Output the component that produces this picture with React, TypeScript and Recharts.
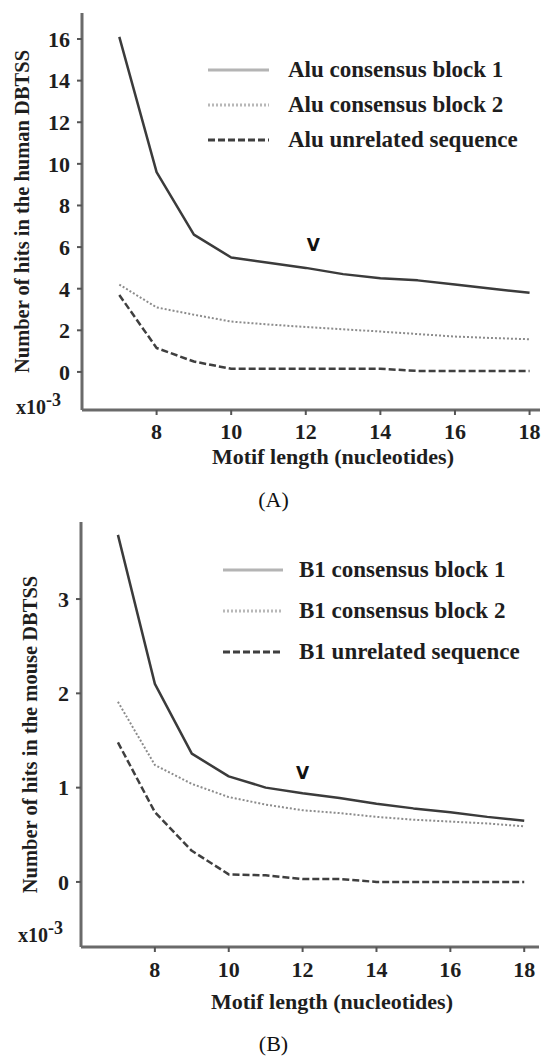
import React from "react";
import {
  LineChart,
  Line,
  XAxis,
  YAxis,
  Legend,
  ReferenceDot,
} from "recharts";

// motif lengths on the x axis
const motifLengths = [7, 8, 9, 10, 11, 12, 13, 14, 15, 16, 17, 18];
const xTicks = [8, 10, 12, 14, 16, 18];

// panel A - human DBTSS (x10^-3)
const humanBlock1 = [16.1, 9.6, 6.6, 5.5, 5.25, 5.0, 4.7, 4.5, 4.4, 4.2, 4.0, 3.8];
const humanBlock2 = [4.2, 3.1, 2.75, 2.42, 2.28, 2.16, 2.05, 1.94, 1.82, 1.7, 1.63, 1.57];
const humanUnrelated = [3.7, 1.15, 0.5, 0.15, 0.15, 0.15, 0.15, 0.15, 0.05, 0.05, 0.05, 0.05];
const humanYTicks = [0, 2, 4, 6, 8, 10, 12, 14, 16];
const humanMarker = { x: 12.2, y: 6.1 };

// panel B - mouse DBTSS (x10^-3)
const mouseBlock1 = [3.68, 2.1, 1.36, 1.12, 1.0, 0.94, 0.89, 0.83, 0.78, 0.74, 0.69, 0.65];
const mouseBlock2 = [1.91, 1.24, 1.04, 0.9, 0.82, 0.76, 0.73, 0.69, 0.66, 0.64, 0.62, 0.59];
const mouseUnrelated = [1.48, 0.74, 0.33, 0.08, 0.07, 0.03, 0.03, 0.0, 0.0, 0.0, 0.0, 0.0];
const mouseYTicks = [0, 1, 2, 3];
const mouseMarker = { x: 12.0, y: 1.16 };

const FONT = "'Liberation Serif', 'DejaVu Serif', serif";

const seriesStyle = [
  { key: "block1", stroke: "#3b3b3b", width: 2.5, dash: undefined as string | undefined, legendStroke: "#b4b4b4", legendDash: undefined as string | undefined },
  { key: "block2", stroke: "#8c8c8c", width: 2, dash: "2 2", legendStroke: "#b8b8b8", legendDash: "2 2" },
  { key: "unrelated", stroke: "#3f3f3f", width: 2.5, dash: "7 3", legendStroke: "#3f3f3f", legendDash: "7 3" },
];

function buildRows(b1: number[], b2: number[], un: number[]) {
  return motifLengths.map((len, i) => ({
    len,
    block1: b1[i],
    block2: b2[i],
    unrelated: un[i],
  }));
}

const humanData = buildRows(humanBlock1, humanBlock2, humanUnrelated);
const mouseData = buildRows(mouseBlock1, mouseBlock2, mouseUnrelated);

// the source figure is a bit stretched sideways, so horizontal text runs larger
const tickStyle = { fontFamily: FONT, fontWeight: 700, fontSize: 22, fill: "#1e1e1e" };
const xTitleStyle = { fontFamily: FONT, fontWeight: 700, fontSize: 22, fill: "#1e1e1e" };
const yTitleStyle = { fontFamily: FONT, fontWeight: 700, fontSize: 20.5, fill: "#1e1e1e", textAnchor: "middle" };

function makeLegend(names: string[], rowGap: number, sampleW: number, textGap: number) {
  return () => (
    <div style={{ fontFamily: FONT, fontWeight: 700, fontSize: 23, color: "#1e1e1e", whiteSpace: "nowrap" }}>
      {seriesStyle.map((s, i) => (
        <div key={s.key} style={{ display: "flex", alignItems: "center", height: rowGap }}>
          <svg width={sampleW} height={6} style={{ marginRight: textGap }}>
            <line
              x1={0}
              y1={3}
              x2={sampleW}
              y2={3}
              stroke={s.legendStroke}
              strokeWidth={3}
              strokeDasharray={s.legendDash}
            />
          </svg>
          <span>{names[i]}</span>
        </div>
      ))}
    </div>
  );
}

const markerShape = (p: any) => (
  <text
    x={p.cx}
    y={p.cy}
    textAnchor="middle"
    dominantBaseline="central"
    fontFamily="'DejaVu Sans', sans-serif"
    fontWeight={700}
    fontSize={17}
    fill="#111"
  >
    V
  </text>
);

interface PanelProps {
  data: typeof humanData;
  width: number;
  height: number;
  margin: { top: number; right: number; left: number; bottom: number };
  yWidth: number;
  xHeight: number;
  yDomain: [number, number];
  xDomain: [number, number];
  yTicks: number[];
  yTitle: string;
  yTitleOffset: number;
  xTickMargin: number;
  legendNames: string[];
  legendPos: { left: number; top: number };
  legendRowGap: number;
  legendSampleW: number;
  legendTextGap: number;
  marker: { x: number; y: number };
}

function Panel(props: PanelProps) {
  return (
    <LineChart width={props.width} height={props.height} data={props.data} margin={props.margin}>
      <XAxis
        dataKey="len"
        type="number"
        domain={props.xDomain}
        ticks={xTicks}
        allowDataOverflow
        height={props.xHeight}
        tick={tickStyle}
        tickSize={5}
        tickMargin={props.xTickMargin}
        axisLine={{ stroke: "#6a6a6a", strokeWidth: 3 }}
        tickLine={{ stroke: "#555", strokeWidth: 2 }}
        label={{
          value: "Motif length (nucleotides)",
          position: "insideBottom",
          offset: 6,
          dx: 22,
          style: xTitleStyle,
        }}
      />
      <YAxis
        type="number"
        domain={props.yDomain}
        ticks={props.yTicks}
        allowDataOverflow
        width={props.yWidth}
        tick={tickStyle}
        tickSize={5}
        tickMargin={7}
        axisLine={{ stroke: "#6a6a6a", strokeWidth: 3 }}
        tickLine={{ stroke: "#555", strokeWidth: 2 }}
        label={{
          value: props.yTitle,
          angle: -90,
          position: "insideLeft",
          offset: props.yTitleOffset,
          style: yTitleStyle,
        }}
      />
      {/* vertical + center + middle keeps the legend from eating plot space */}
      <Legend
        layout="vertical"
        verticalAlign="middle"
        align="center"
        content={makeLegend(props.legendNames, props.legendRowGap, props.legendSampleW, props.legendTextGap)}
        wrapperStyle={{ left: props.legendPos.left, top: props.legendPos.top, width: "auto" }}
      />
      {seriesStyle.map((s) => (
        <Line
          key={s.key}
          dataKey={s.key}
          type="linear"
          stroke={s.stroke}
          strokeWidth={s.width}
          strokeDasharray={s.dash}
          strokeLinejoin="round"
          dot={false}
          activeDot={false}
          isAnimationActive={false}
        />
      ))}
      <ReferenceDot x={props.marker.x} y={props.marker.y} r={0} shape={markerShape} ifOverflow="visible" />
    </LineChart>
  );
}

const panelLabel: React.CSSProperties = {
  position: "absolute",
  width: 551,
  textAlign: "center",
  fontFamily: FONT,
  fontSize: 22,
  color: "#111",
  left: -2,
};

const expStyle: React.CSSProperties = {
  position: "absolute",
  fontFamily: FONT,
  fontWeight: 700,
  fontSize: 20,
  color: "#1e1e1e",
  lineHeight: "22px",
};

export default function App() {
  return (
    <div style={{ position: "absolute", left: 0, top: 0, width: 551, height: 1057, background: "#fff", overflow: "hidden" }}>
      <div style={{ position: "absolute", left: 0, top: 0 }}>
        <Panel
          data={humanData}
          width={551}
          height={470}
          margin={{ top: 13, right: 11, left: 0, bottom: 0 }}
          yWidth={82}
          xHeight={60}
          yDomain={[-1.83, 17.25]}
          xDomain={[6, 18.28]}
          yTicks={humanYTicks}
          yTitle="Number of hits in the human DBTSS"
          yTitleOffset={22}
          xTickMargin={8}
          legendNames={["Alu consensus block 1", "Alu consensus block 2", "Alu unrelated sequence"]}
          legendPos={{ left: 208, top: 52 }}
          legendRowGap={35}
          legendSampleW={61}
          legendTextGap={19}
          marker={humanMarker}
        />
      </div>
      <div style={{ ...expStyle, left: 16, top: 396 }}>
        x10<span style={{ fontSize: 18, position: "relative", top: -8 }}>-3</span>
      </div>
      <div style={{ ...panelLabel, top: 487 }}>(A)</div>

      <div style={{ position: "absolute", left: 0, top: 500 }}>
        <Panel
          data={mouseData}
          width={551}
          height={515}
          margin={{ top: 22, right: 12, left: 0, bottom: 0 }}
          yWidth={81}
          xHeight={68}
          yDomain={[-0.69, 3.817]}
          xDomain={[6, 18.4]}
          yTicks={mouseYTicks}
          yTitle="Number of hits in the mouse DBTSS"
          yTitleOffset={30}
          xTickMargin={9}
          legendNames={["B1 consensus block 1", "B1 consensus block 2", "B1 unrelated sequence"]}
          legendPos={{ left: 223, top: 49 }}
          legendRowGap={41}
          legendSampleW={60}
          legendTextGap={16}
          marker={mouseMarker}
        />
      </div>
      <div style={{ ...expStyle, left: 18, top: 924 }}>
        x10<span style={{ fontSize: 18, position: "relative", top: -8 }}>-3</span>
      </div>
      <div style={{ ...panelLabel, top: 1031 }}>(B)</div>
    </div>
  );
}
